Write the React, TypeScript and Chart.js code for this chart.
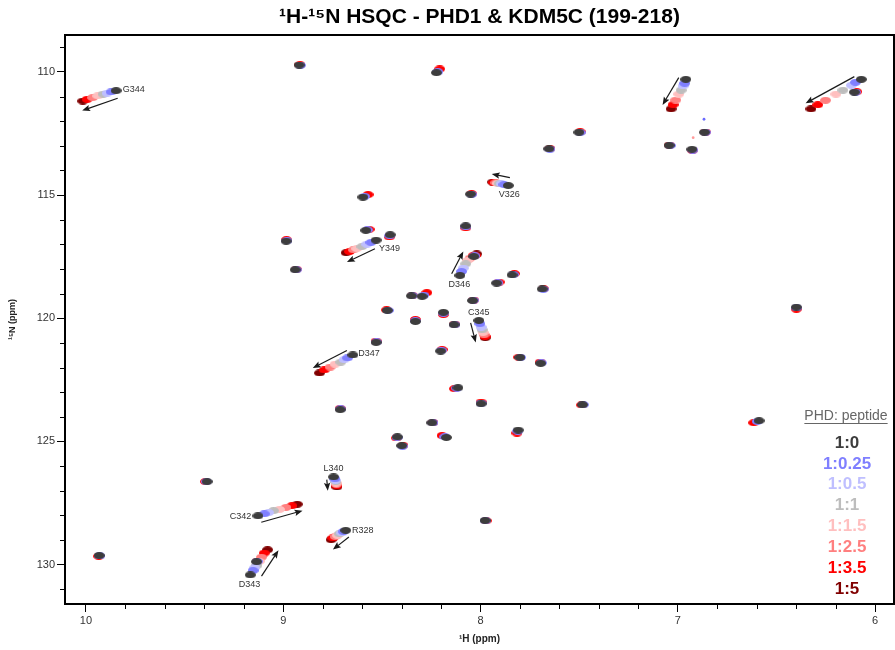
import React, { useEffect, useRef } from "react";
import { Chart, registerables } from "chart.js";

Chart.register(...registerables);

type P = [number, number]; // [1H ppm, 15N ppm]

const titleText = "¹H-¹⁵N HSQC - PHD1 & KDM5C (199-218)";
const xTitle = "¹H (ppm)";
const yTitle = "¹⁵N (ppm)";
const legendTitle = "PHD: peptide";

const titrationLabels = ["1:0", "1:0.25", "1:0.5", "1:1", "1:1.5", "1:2.5", "1:3.5", "1:5"];
const titrationColors = ["#3d3d3d", "#7f7fff", "#bfbfff", "#bdbdbd", "#ffbfbf", "#ff7f7f", "#ff0000", "#800000"];

// peak lists per titration point; the first 12 entries are the shifting residues
// (G344, ~6.96/110.3, ~6.07/110.3, V326, Y349, D346, C345, D347, L340, C342, R328, D343)
const ratio_1_0: P[] = [
  [9.847, 110.76], [6.959, 110.30], [6.070, 110.30], [7.859, 114.61], [8.529, 116.83], [8.104, 118.26],
  [8.008, 120.09], [8.647, 121.49], [8.745, 126.44], [9.128, 128.02], [8.683, 128.61], [9.167, 130.42],
  [8.919, 109.72], [8.223, 110.03], [6.105, 110.82], [7.501, 112.45], [6.865, 112.45], [7.044, 112.98],
  [6.928, 113.14], [7.653, 113.12], [8.050, 114.96], [8.596, 115.08], [8.581, 116.43], [8.458, 116.61],
  [8.075, 116.25], [8.985, 116.87], [8.939, 118.03], [8.034, 117.49], [7.840, 118.24], [7.918, 118.57],
  [7.687, 118.81], [8.350, 119.09], [8.296, 119.11], [8.472, 119.68], [8.188, 119.76], [8.330, 120.13],
  [8.040, 119.28], [8.134, 120.26], [8.529, 120.98], [8.202, 121.33], [7.800, 121.59], [7.695, 121.83],
  [8.114, 122.82], [7.997, 123.47], [8.711, 123.71], [8.246, 124.24], [8.173, 124.84], [7.809, 124.54],
  [7.483, 123.51], [8.421, 124.82], [8.399, 125.17], [6.399, 119.55], [6.588, 124.16], [9.386, 126.63],
  [9.933, 129.63], [9.135, 129.88], [7.977, 128.21],
];
const ratio_1_0_25: P[] = [
  [9.872, 110.81], [6.965, 110.46], [6.099, 110.42], [7.881, 114.57], [8.555, 116.92], [8.096, 118.10],
  [8.003, 120.22], [8.674, 121.61], [8.738, 126.52], [9.096, 127.94], [8.695, 128.66], [9.153, 130.24],
  [8.913, 109.73], [8.216, 109.99], [6.099, 110.82], [7.495, 112.46], [6.860, 112.45], [7.039, 112.99],
  [6.924, 113.17], [7.648, 113.13], [8.045, 114.97], [8.587, 115.05], [8.573, 116.41], [8.460, 116.65],
  [8.074, 116.29], [8.981, 116.85], [8.933, 118.03], [8.029, 117.46], [7.834, 118.22], [7.912, 118.56],
  [7.682, 118.82], [8.345, 119.08], [8.287, 119.06], [8.468, 119.68], [8.188, 119.80], [8.330, 120.10],
  [8.036, 119.27], [8.130, 120.26], [8.527, 120.96], [8.198, 121.30], [7.797, 121.59], [7.692, 121.81],
  [8.120, 122.84], [7.997, 123.44], [8.709, 123.68], [8.241, 124.24], [8.181, 124.81], [7.811, 124.58],
  [7.479, 123.51], [8.423, 124.84], [8.395, 125.19], [6.398, 119.58], [6.597, 124.19], [9.389, 126.63],
  [9.930, 129.65], [9.132, 129.87], [7.974, 128.22],
];
const ratio_1_0_5: P[] = [
  [9.893, 110.86], [6.973, 110.57], [6.120, 110.54], [7.895, 114.54], [8.576, 116.99], [8.087, 117.96],
  [7.997, 120.36], [8.691, 121.68], [8.735, 126.58], [9.074, 127.89], [8.703, 128.71], [9.145, 130.13],
];
const ratio_1_1: P[] = [
  [9.913, 110.90], [6.983, 110.74], [6.163, 110.74], [7.905, 114.53], [8.601, 117.09], [8.075, 117.79],
  [7.992, 120.47], [8.708, 121.78], [8.733, 126.63], [9.049, 127.81], [8.715, 128.75], [9.133, 130.03],
];
const ratio_1_1_5: P[] = [
  [9.940, 110.97], [6.995, 110.90], [6.198, 110.90], [7.913, 114.52], [8.627, 117.17], [8.065, 117.65],
  [7.987, 120.58], [8.737, 121.86], [8.732, 126.69], [9.019, 127.76], [8.725, 128.81], [9.122, 129.87],
];
const ratio_1_2_5: P[] = [
  [9.966, 111.04], [7.010, 111.14], [6.251, 111.15], [7.922, 114.50], [8.644, 117.22], [8.053, 117.56],
  [7.982, 120.67], [8.762, 121.98], [8.730, 126.74], [8.986, 127.68], [8.737, 128.86], [9.110, 129.70],
];
const ratio_1_3_5: P[] = [
  [9.994, 111.11], [7.024, 111.33], [6.290, 111.33], [7.932, 114.49], [8.664, 117.29], [8.037, 117.46],
  [7.977, 120.74], [8.792, 122.10], [8.728, 126.80], [8.956, 127.61], [8.748, 128.92], [9.096, 129.53],
  [8.915, 109.71], [8.207, 109.88], [6.093, 110.80], [7.495, 112.43], [6.860, 112.44], [7.042, 112.97],
  [6.926, 113.18], [7.648, 113.11], [8.045, 114.94], [8.570, 114.98], [8.565, 116.39], [8.462, 116.70],
  [8.075, 116.33], [8.983, 116.81], [8.933, 118.01], [8.027, 117.45], [7.828, 118.19], [7.906, 118.53],
  [7.681, 118.80], [8.345, 119.07], [8.272, 118.96], [8.476, 119.66], [8.188, 119.85], [8.330, 120.05],
  [8.035, 119.26], [8.131, 120.24], [8.529, 120.93], [8.195, 121.27], [7.805, 121.58], [7.697, 121.78],
  [8.132, 122.86], [7.997, 123.40], [8.711, 123.66], [8.241, 124.23], [8.195, 124.76], [7.815, 124.66],
  [7.487, 123.52], [8.426, 124.86], [8.393, 125.16], [6.399, 119.63], [6.615, 124.24], [9.394, 126.63],
  [9.935, 129.66], [9.131, 129.86], [7.972, 128.22],
];
const ratio_1_5: P[] = [
  [10.016, 111.18], [7.034, 111.50], [6.325, 111.50], [7.938, 114.47], [8.681, 117.34], [8.019, 117.39],
  [7.976, 120.79], [8.816, 122.22], [8.728, 126.85], [8.929, 127.55], [8.757, 128.99], [9.079, 129.40],
];

const tinyPeaks: P[] = [[6.867, 111.92], [6.922, 112.67]];
const tinyColors = ["#6a6aff", "#ff9a9a"];

const residueNames = ["G344", "V326", "Y349", "D346", "C345", "D347", "L340", "C342", "R328", "D343"];
const residueLabelAt: P[] = [
  [9.813, 110.70], [7.854, 114.96], [8.514, 117.15], [8.107, 118.64], [8.009, 119.75],
  [8.620, 121.45], [8.745, 126.11], [9.162, 128.05], [8.651, 128.62], [9.171, 130.80],
];
const residueLabelAlign: CanvasTextAlign[] = ["left", "center", "left", "center", "center", "left", "center", "right", "left", "center"];

const arrowFrom: P[] = [
  [9.839, 111.07], [6.995, 110.23], [6.105, 110.19], [7.851, 114.29], [8.535, 117.18], [8.146, 118.19],
  [8.050, 120.19], [8.677, 121.31], [8.779, 126.55], [9.111, 128.28], [8.667, 128.88], [9.110, 130.47],
];
const arrowTo: P[] = [
  [10.019, 111.57], [7.077, 111.34], [6.352, 111.27], [7.943, 114.14], [8.677, 117.72], [8.087, 117.29],
  [8.024, 120.98], [8.850, 122.02], [8.774, 127.00], [8.902, 127.81], [8.748, 129.39], [9.024, 129.42],
];

const xMin = 5.904, xMax = 10.106, xStep = 0.2, xLabelEvery = 1;
const yMin = 108.5, yMax = 131.6, yStep = 1, yLabelEvery = 5;

const FONT = "'Liberation Sans', Arial, Helvetica, sans-serif";
const PLOT_RIGHT_GAP = 1;

function ellipseSprite(color: string, w = 11, h = 7): HTMLCanvasElement {
  const c = document.createElement("canvas");
  c.width = w;
  c.height = h;
  const g = c.getContext("2d")!;
  g.fillStyle = color;
  g.beginPath();
  g.ellipse(w / 2, h / 2, w / 2, h / 2, 0, 0, Math.PI * 2);
  g.fill();
  return c;
}

const isMultiple = (v: number, m: number) => Math.abs(v / m - Math.round(v / m)) < 1e-6;

// stretch the plot area to the right edge (Chart.js reserves a few px for tick-label overflow)
const stretchPlugin = {
  id: "stretch",
  afterLayout(chart: any) {
    const a = chart.chartArea;
    const target = chart.width - PLOT_RIGHT_GAP;
    if (a.right !== target) {
      a.right = target;
      a.width = a.right - a.left;
      const xs = chart.scales.x;
      xs.right = target;
      xs.width = xs.right - xs.left;
      xs.configure();
      if (chart.titleBlock) {
        chart.titleBlock.right = target;
        chart.titleBlock.width = chart.titleBlock.right - chart.titleBlock.left;
      }
    }
  },
};

const decorPlugin = {
  id: "decor",
  afterDraw(chart: any) {
    const { ctx, chartArea: a, scales } = chart;
    const xs = scales.x, ys = scales.y;
    ctx.save();
    // minor ticks
    ctx.strokeStyle = "#000";
    ctx.lineWidth = 1;
    ctx.beginPath();
    xs.ticks.forEach((t: any) => {
      if (!isMultiple(t.value, xLabelEvery)) {
        const px = Math.round(xs.getPixelForValue(t.value)) + 0.5;
        ctx.moveTo(px, a.bottom);
        ctx.lineTo(px, a.bottom + 5);
      }
    });
    ys.ticks.forEach((t: any) => {
      if (!isMultiple(t.value, yLabelEvery)) {
        const py = Math.round(ys.getPixelForValue(t.value)) + 0.5;
        ctx.moveTo(a.left, py);
        ctx.lineTo(a.left - 5, py);
      }
    });
    ctx.stroke();
    // frame
    ctx.lineWidth = 2;
    ctx.strokeRect(a.left, a.top, a.right - a.left, a.bottom - a.top);

    // arrows
    ctx.strokeStyle = "#1a1a1a";
    ctx.fillStyle = "#1a1a1a";
    ctx.lineWidth = 1.2;
    arrowFrom.forEach((f, i) => {
      const t = arrowTo[i];
      const x1 = xs.getPixelForValue(f[0]), y1 = ys.getPixelForValue(f[1]);
      const x2 = xs.getPixelForValue(t[0]), y2 = ys.getPixelForValue(t[1]);
      const ang = Math.atan2(y2 - y1, x2 - x1);
      const L = 8, W = 3.2;
      const bx = x2 - L * Math.cos(ang), by = y2 - L * Math.sin(ang);
      ctx.beginPath();
      ctx.moveTo(x1, y1);
      ctx.lineTo(bx + 2 * Math.cos(ang), by + 2 * Math.sin(ang));
      ctx.stroke();
      ctx.beginPath();
      ctx.moveTo(x2, y2);
      ctx.lineTo(bx - W * Math.sin(ang), by + W * Math.cos(ang));
      ctx.lineTo(bx + 1.5 * Math.cos(ang), by + 1.5 * Math.sin(ang));
      ctx.lineTo(bx + W * Math.sin(ang), by - W * Math.cos(ang));
      ctx.closePath();
      ctx.fill();
    });

    // residue labels
    ctx.fillStyle = "#333";
    ctx.font = `9px ${FONT}`;
    ctx.textBaseline = "middle";
    residueNames.forEach((name, i) => {
      ctx.textAlign = residueLabelAlign[i];
      ctx.fillText(name, xs.getPixelForValue(residueLabelAt[i][0]), ys.getPixelForValue(residueLabelAt[i][1]));
    });

    // legend
    const lx = 846;
    ctx.textAlign = "center";
    ctx.font = `14px ${FONT}`;
    ctx.fillStyle = "#666";
    ctx.fillText(legendTitle, lx, 416);
    const w = ctx.measureText(legendTitle).width;
    ctx.strokeStyle = "#666";
    ctx.lineWidth = 1;
    ctx.beginPath();
    ctx.moveTo(lx - w / 2, 423.5);
    ctx.lineTo(lx + w / 2, 423.5);
    ctx.stroke();
    ctx.font = `bold 17px ${FONT}`;
    chart.data.datasets.slice(0, titrationLabels.length).forEach((ds: any, i: number) => {
      ctx.fillStyle = ds.backgroundColor;
      ctx.fillText(ds.label, lx + 1, 443 + i * 20.9);
    });
    ctx.restore();
  },
};

export default function App() {
  const ref = useRef<HTMLCanvasElement>(null);
  useEffect(() => {
    document.body.style.margin = "0";
    const series = [ratio_1_0, ratio_1_0_25, ratio_1_0_5, ratio_1_1, ratio_1_1_5, ratio_1_2_5, ratio_1_3_5, ratio_1_5];
    const datasets: any[] = series.map((pts, i) => ({
      label: titrationLabels[i],
      data: pts.map(([h, n]) => ({ x: h, y: n })),
      pointStyle: ellipseSprite(titrationColors[i]),
      pointRadius: 5,
      backgroundColor: titrationColors[i],
      borderColor: titrationColors[i],
    }));
    datasets.push({
      label: "",
      data: tinyPeaks.map(([h, n]) => ({ x: h, y: n })),
      pointStyle: "circle",
      pointRadius: 1.4,
      borderWidth: 0,
      backgroundColor: tinyColors,
    });
    const tickFont = { family: FONT, size: 11 };
    const chart = new Chart(ref.current!, {
      type: "scatter",
      data: { datasets },
      plugins: [stretchPlugin, decorPlugin],
      options: {
        responsive: false,
        animation: false,
        events: [],
        layout: { padding: { top: 0, right: PLOT_RIGHT_GAP, left: 0, bottom: 0 } },
        plugins: {
          legend: { display: false },
          tooltip: { enabled: false },
          title: {
            display: true,
            text: titleText,
            fullSize: false,
            color: "#000",
            font: { family: FONT, size: 21, weight: "bold", lineHeight: 1.2 },
            padding: { top: 5, bottom: 4.8 },
          },
        },
        scales: {
          x: {
            type: "linear",
            reverse: true,
            min: xMin,
            max: xMax,
            afterFit: (s: any) => { s.height = 46; },
            border: { display: false },
            grid: {
              display: true,
              drawOnChartArea: false,
              drawTicks: true,
              tickLength: 8,
              tickWidth: 1,
              tickColor: (c: any) => (c.tick && isMultiple(c.tick.value, xLabelEvery) ? "#000" : "rgba(0,0,0,0)"),
            },
            ticks: {
              stepSize: xStep,
              includeBounds: false,
              autoSkip: false,
              maxRotation: 0,
              padding: 2,
              color: "#333",
              font: tickFont,
              callback: (v: any) => (isMultiple(Number(v), xLabelEvery) ? String(Math.round(Number(v))) : ""),
            },
            title: {
              display: true,
              text: xTitle,
              color: "#222",
              font: { family: FONT, size: 10, weight: "bold", lineHeight: 1.2 },
              padding: { top: 0, bottom: 5 },
            },
          },
          y: {
            type: "linear",
            reverse: true,
            min: yMin,
            max: yMax,
            afterFit: (s: any) => { s.width = 65; },
            border: { display: false },
            grid: {
              display: true,
              drawOnChartArea: false,
              drawTicks: true,
              tickLength: 8,
              tickWidth: 1,
              tickColor: (c: any) => (c.tick && isMultiple(c.tick.value, yLabelEvery) ? "#000" : "rgba(0,0,0,0)"),
            },
            ticks: {
              stepSize: yStep,
              includeBounds: false,
              autoSkip: false,
              padding: 2,
              color: "#333",
              font: tickFont,
              callback: (v: any) => (isMultiple(Number(v), yLabelEvery) ? String(Math.round(Number(v))) : ""),
            },
            title: {
              display: true,
              text: yTitle,
              color: "#222",
              font: { family: FONT, size: 9, weight: "bold", lineHeight: 1.2 },
              padding: { top: 7, bottom: 0 },
            },
          },
        },
      },
    });
    return () => chart.destroy();
  }, []);
  return <canvas ref={ref} width={895} height={650} style={{ display: "block" }} />;
}
